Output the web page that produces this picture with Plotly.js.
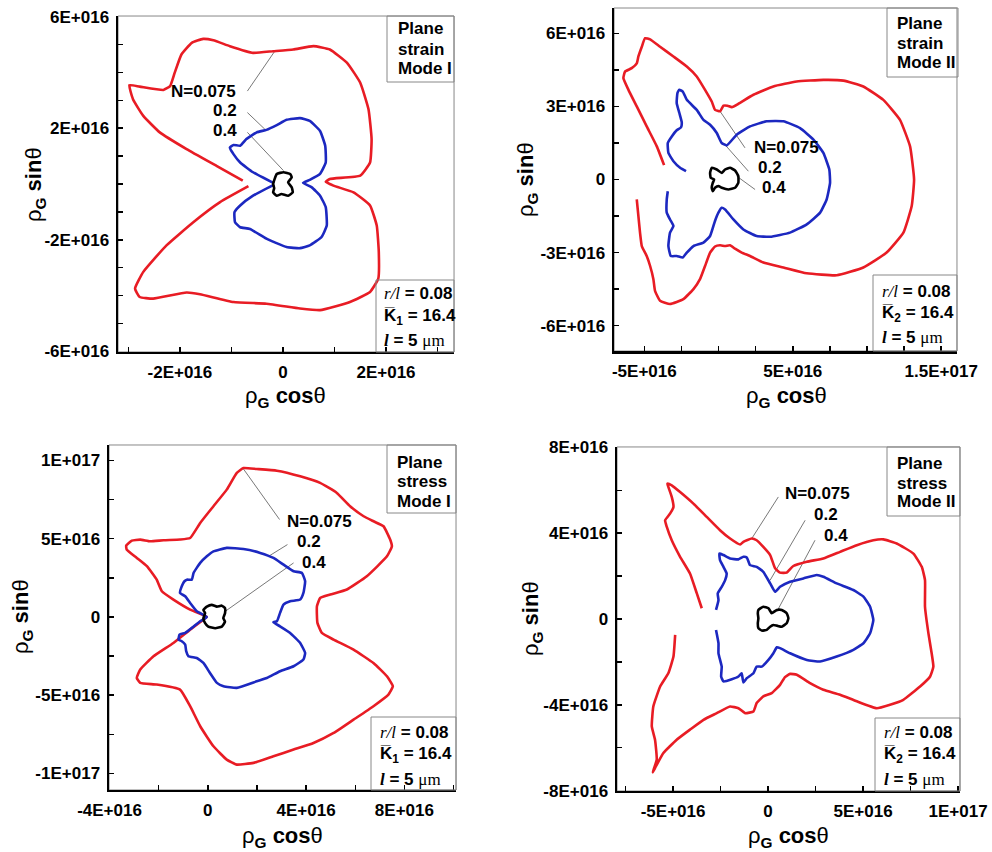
<!DOCTYPE html>
<html><head><meta charset="utf-8">
<script src="https://cdn.plot.ly/plotly-3.0.1.min.js"></script>
<style>html,body{margin:0;padding:0;background:#fff}#chart{width:992px;height:852px}</style>
</head><body><div id="chart"></div>
<script>
const SC = 1e16; // values below are in units of 1E+016

// ---------- Panel 1: plane strain, mode I ----------
const p1RedX = [-0.78,-1.29,-1.87,-2.39,-2.71,-2.91,-2.98,-2.78,-2.32,-2.19,-2.10,-1.97,-1.77,-1.55,-1.35,-1.03,-0.58,-0.19,0.20,0.59,0.91,1.24,1.50,1.66,1.72,1.69,1.50,0.91,0.83,0.98,1.37,1.69,1.82,1.86,1.85,1.69,1.30,0.72,0.33,-0.32,-0.96,-1.61,-1.87,-2.52,-2.78,-2.87,-2.71,-2.26,-1.74,-1.22,-0.67];
const p1RedY = [0.12,0.65,1.25,1.85,2.44,3.04,3.54,3.49,3.37,3.51,3.99,4.64,5.06,5.20,5.15,4.94,4.70,4.76,4.82,4.94,4.82,4.35,3.63,2.68,1.61,0.77,0.30,0.18,0.08,-0.06,-0.30,-0.77,-1.49,-2.44,-3.39,-3.87,-4.23,-4.52,-4.46,-4.29,-4.23,-3.95,-3.89,-4.11,-4.05,-3.75,-3.15,-2.20,-1.37,-0.65,-0.08];
const p1BlueX = [-0.17,-0.58,-0.83,-0.96,-1.03,-0.96,-0.83,-0.71,-0.51,-0.32,-0.12,0.07,0.33,0.52,0.72,0.82,0.83,0.72,0.52,0.39,0.56,0.72,0.83,0.85,0.75,0.52,0.33,0.07,-0.32,-0.64,-0.83,-0.93,-0.94,-0.83,-0.58,-0.17];
const p1BlueY = [0.02,0.42,0.77,1.07,1.31,1.40,1.37,1.61,1.85,1.94,2.11,2.30,2.36,2.26,1.90,1.37,0.77,0.36,0.15,0.04,-0.12,-0.42,-0.83,-1.49,-1.90,-2.20,-2.30,-2.26,-1.96,-1.61,-1.55,-1.37,-1.01,-0.77,-0.42,-0.02];
const p1BlackX = [-0.19,-0.12,0.01,0.14,0.17,0.10,0.17,0.19,0.10,-0.03,-0.12,-0.19,-0.17,-0.19];
const p1BlackY = [0,0.36,0.42,0.36,0.24,0.06,-0.12,-0.30,-0.42,-0.36,-0.42,-0.30,-0.15,0];
const p1LeadX = [-0.69,-0.17,null,-0.69,-0.35,null,-0.69,0.01];
const p1LeadY = [3.33,4.73,null,2.56,1.96,null,1.85,0.48];
const p1LabX = [-0.87,-0.85,-0.85];
const p1LabY = [3.33,2.62,1.93];
const p1XTicks = [-2,0,2];
const p1XText = ['-2E+016','0','2E+016'];
const p1XMinor = [-3,-1,1,3];
const p1YTicks = [-6,-2,2,6];
const p1YText = ['-6E+016','-2E+016','2E+016','6E+016'];
const p1YMinor = [-5,-4,-3,-1,0,1,3,4,5];

// ---------- Panel 2: plane strain, mode II ----------
const p2RedX = [-3.67,-4.16,-4.84,-5.51,-6.07,-6.41,-6.30,-5.85,-5.51,-5.40,-5.17,-4.95,-4.61,-3.94,-3.04,-2.14,-1.47,-0.91,-0.46,-0.24,0.10,0.33,0.60,0.89,1.34,2.35,3.69,5.26,7.06,8.41,9.75,11.10,12.22,12.90,13.17,13.01,12.45,11.32,9.75,7.96,5.94,4.37,3.02,2.12,1.56,1.11,0.77,0.44,0.10,-0.24,-0.57,-0.91,-1.25,-1.69,-2.37,-3.27,-3.94,-4.28,-4.39,-4.61,-4.84,-5.17,-5.29,-5.40,-5.51];
const p2RedY = [0.59,1.36,2.18,3.00,3.68,4.16,4.43,4.57,4.77,5.05,5.45,5.80,5.75,5.45,5.05,4.64,4.23,3.68,3.20,2.86,2.80,3.03,3.03,2.97,3.11,3.48,3.82,4.02,4.09,4.06,3.82,3.27,2.45,1.36,0,-1.09,-2.18,-3.00,-3.61,-3.93,-3.85,-3.61,-3.41,-3.14,-3.00,-2.84,-2.70,-2.73,-2.70,-2.75,-3.00,-3.55,-4.09,-4.50,-4.91,-5.11,-4.98,-4.57,-4.09,-3.55,-3.14,-2.73,-2.18,-1.50,-0.82];
const p2BlueX = [-2.19,-2.59,-3.04,-3.38,-3.42,-3.15,-2.82,-2.53,-2.48,-2.64,-2.82,-2.77,-2.64,-2.41,-2.14,-1.47,-1.02,-0.57,-0.12,0.21,0.55,1.22,2.12,3.24,4.37,5.49,6.39,7.06,7.46,7.51,7.28,6.84,5.94,4.81,3.47,2.57,1.67,1.00,0.44,0.21,-0.01,-0.24,-0.57,-1.02,-1.69,-2.14,-2.41,-2.82,-3.22,-3.38,-3.27,-3.04,-3.27,-3.49,-3.49,-3.42];
const p2BlueY = [0.34,0.48,0.75,1.09,1.50,1.77,2.02,2.14,2.35,2.73,3.14,3.55,3.68,3.61,3.27,2.86,2.45,2.25,1.91,1.50,1.40,1.84,2.18,2.39,2.39,2.11,1.64,1.09,0.41,-0.14,-0.82,-1.36,-1.84,-2.18,-2.35,-2.32,-2.05,-1.64,-1.23,-1.16,-1.36,-1.70,-2.32,-2.59,-2.73,-3.00,-3.20,-3.14,-3.14,-2.73,-2.18,-1.91,-1.64,-1.36,-0.82,-0.48];
const p2BlackX = [-0.46,-0.12,0.22,0.44,0.77,1.11,1.33,1.33,1.11,0.66,0.22,-0.01,-0.24,-0.39,-0.46,-0.39,-0.30,-0.53,-0.57,-0.46];
const p2BlackY = [0.48,0.41,0.27,0.41,0.48,0.37,0.14,-0.14,-0.34,-0.41,-0.34,-0.27,-0.34,-0.48,-0.34,-0.14,0,0.07,0.27,0.48];
const p2LeadX = [1.78,0.10,null,2.01,0.33,null,2.46,1.22];
const p2LeadY = [1.30,2.80,null,0.34,1.50,null,-0.41,0.14];
const p2LabX = [2.23,2.53,2.79];
const p2LabY = [1.30,0.48,-0.34];
const p2XTicks = [-5,5,15];
const p2XText = ['-5E+016','5E+016','1.5E+017'];
const p2XMinor = [-2.5,0,2.5,7.5,10,12.5];
const p2YTicks = [-6,-3,0,3,6];
const p2YText = ['-6E+016','-3E+016','0','3E+016','6E+016'];
const p2YMinor = [-4.5,-1.5,1.5,4.5];

// ---------- Panel 3: plane stress, mode I ----------
const p3RedX = [-0.04,-0.72,-1.40,-1.87,-2.08,-2.48,-2.89,-3.30,-3.32,-3.09,-2.75,-2.35,-1.80,-1.13,-0.72,-0.31,0.23,0.77,1.18,1.45,1.99,2.81,3.76,4.57,5.25,5.79,6.34,6.74,7.15,7.42,7.49,7.29,6.47,5.66,4.98,4.57,4.44,4.46,4.64,5.12,5.93,6.74,7.29,7.53,7.35,6.74,5.93,5.12,4.30,3.49,2.67,1.86,1.18,0.77,0.23,-0.31,-0.72,-1.13,-2.08,-2.75,-2.89,-2.75,-2.21,-1.40,-0.72,-0.18,-0.04];
const p3RedY = [0,0.47,1.11,1.64,2.38,3.24,3.77,4.30,4.56,4.87,4.94,4.83,4.90,4.94,5.04,6.00,7.07,8.13,9.20,9.51,9.45,9.34,8.98,8.56,7.92,7.07,6.43,6.11,5.79,4.94,4.51,3.87,2.60,1.75,1.43,1.21,0.68,-0.38,-1.02,-1.45,-2.09,-2.94,-3.79,-4.43,-4.96,-5.70,-6.56,-7.41,-8.05,-8.47,-8.90,-9.32,-9.43,-9.11,-8.26,-6.98,-5.70,-4.64,-4.32,-4.21,-3.90,-3.36,-2.51,-1.66,-0.81,-0.17,0];
const p3BlueX = [-0.04,-0.45,-0.72,-0.92,-1.13,-1.06,-0.95,-0.85,-0.65,-0.58,-0.31,-0.04,0.23,0.77,1.45,2.13,2.67,3.08,3.49,3.83,3.96,3.89,3.76,3.35,3.08,2.94,2.81,2.67,2.94,3.35,3.76,3.96,3.89,3.49,2.94,2.40,1.99,1.18,0.64,0.37,0.09,-0.18,-0.45,-0.79,-0.88,-0.92,-1.06,-1.19,-1.15,-0.92,-0.65,-0.31,-0.04];
const p3BlueY = [0,0.36,0.89,1.32,1.53,1.96,2.28,2.38,2.38,2.81,3.45,3.87,4.19,4.41,4.34,4.09,3.77,3.34,2.92,2.81,2.28,1.53,1.11,1.00,0.79,0.26,-0.28,-0.34,-0.60,-1.02,-1.66,-2.30,-2.72,-3.15,-3.47,-3.90,-4.11,-4.53,-4.43,-4.21,-3.58,-2.94,-2.62,-2.51,-2.19,-1.77,-1.55,-1.45,-1.13,-1.02,-0.70,-0.28,0];
const p3BlackX = [-0.11,-0.18,-0.04,0.16,0.37,0.57,0.70,0.70,0.63,0.70,0.57,0.30,0.02,-0.11,-0.18,-0.11];
const p3BlackY = [0.24,0.45,0.66,0.77,0.66,0.72,0.56,0.24,-0.08,-0.30,-0.62,-0.72,-0.62,-0.40,-0.08,0.24];
const p3LeadX = [2.92,1.45,null,3.24,2.47,null,3.49,0.71];
const p3LeadY = [6.22,9.45,null,4.62,3.87,null,3.45,0.36];
const p3LabX = [3.15,3.55,3.76];
const p3LabY = [6.11,4.83,3.49];
const p3XTicks = [-4,0,4,8];
const p3XText = ['-4E+016','0','4E+016','8E+016'];
const p3XMinor = [-2,2,6,10];
const p3YTicks = [-10,-5,0,5,10];
const p3YText = ['-1E+017','-5E+016','0','5E+016','1E+017'];
const p3YMinor = [-7.5,-2.5,2.5,7.5];

// ---------- Panel 4: plane stress, mode II ----------
const p4RedX = [-3.49,-3.75,-4.11,-4.63,-5.07,-5.33,-5.42,-5.16,-4.98,-5.07,-5.25,-5.30,-5.07,-4.63,-3.93,-3.23,-2.53,-2.00,-1.47,-1.30,-0.86,-0.60,-0.25,0.11,0.37,0.63,0.98,1.33,2.04,2.91,3.79,4.67,5.54,6.07,6.77,7.65,8.09,8.26,8.26,8.44,8.61,8.70,8.53,8.00,7.12,6.42,5.72,4.67,3.79,2.91,2.21,1.51,1.16,0.89,0.63,0.19,-0.25,-0.60,-0.77,-1.21,-1.56,-2.00,-2.70,-3.40,-4.11,-4.81,-5.51,-5.95,-6.07,-5.86,-5.95,-6.12,-6.04,-5.68,-5.25,-4.98,-4.89];
const p4RedY = [0.50,1.19,2.12,2.90,3.67,4.29,4.60,4.91,5.22,5.69,6.16,6.31,6.23,5.92,5.38,4.76,4.14,3.75,3.47,3.60,3.75,3.67,3.36,2.98,2.36,2.16,2.16,2.47,2.67,2.82,3.13,3.44,3.67,3.71,3.52,3.05,2.43,1.81,0.57,-0.67,-1.60,-2.22,-2.68,-3.15,-3.77,-4.00,-4.16,-3.84,-3.53,-3.30,-2.99,-2.60,-2.56,-2.71,-3.07,-3.46,-3.61,-3.92,-4.31,-4.39,-4.16,-4.08,-4.39,-4.70,-5.16,-5.63,-6.25,-6.95,-7.15,-6.56,-5.63,-5.01,-4.08,-3.15,-2.53,-1.75,-0.74];
const p4BlueX = [-2.74,-2.61,-2.65,-2.44,-2.26,-2.18,-2.35,-2.53,-2.56,-2.35,-2.00,-1.56,-1.30,-1.12,-0.95,-0.60,-0.25,0.11,0.37,0.63,1.16,1.86,2.56,2.91,3.61,4.49,5.02,5.37,5.54,5.37,5.02,4.49,3.61,2.74,2.04,1.16,0.63,0.46,0.28,0.02,-0.33,-0.60,-0.77,-1.12,-1.30,-1.39,-1.56,-1.91,-2.35,-2.47,-2.44,-2.61,-2.61,-2.74];
const p4BlueY = [0.42,0.88,1.19,1.50,1.81,2.12,2.43,2.74,3.05,2.98,2.82,2.78,2.90,2.87,2.51,2.43,2.20,1.66,1.27,1.50,1.74,1.89,2.05,1.97,1.66,1.35,1.04,0.57,-0.05,-0.67,-1.13,-1.44,-1.75,-1.98,-1.91,-1.60,-1.36,-1.32,-1.60,-1.91,-2.22,-2.22,-2.53,-2.76,-2.96,-2.53,-2.68,-2.81,-2.91,-2.68,-2.22,-1.60,-1.13,-0.51];
const p4BlackX = [-0.51,-0.25,0.02,0.19,0.46,0.72,0.98,1.07,0.98,0.72,0.46,0.28,0.11,-0.07,-0.33,-0.51,-0.54,-0.51,-0.54,-0.51];
const p4BlackY = [0.42,0.57,0.50,0.27,0.42,0.42,0.27,0.03,-0.20,-0.36,-0.31,-0.28,-0.36,-0.51,-0.54,-0.43,-0.20,0.03,0.27,0.42];
const p4LeadX = [0.54,-0.86,null,1.95,0.11,null,2.47,0.46];
const p4LeadY = [5.69,3.75,null,4.60,1.81,null,3.67,0.34];
const p4LabX = [0.81,2.30,2.82];
const p4LabY = [5.84,4.88,3.91];
const p4XTicks = [-5,0,5,10];
const p4XText = ['-5E+016','0','5E+016','1E+017'];
const p4XMinor = [-7.5,-2.5,2.5,7.5];
const p4YTicks = [-8,-4,0,4,8];
const p4YText = ['-8E+016','-4E+016','0','4E+016','8E+016'];
const p4YMinor = [-6,-2,2,6];

const labels = ['N=0.075','0.2','0.4'];
const titles = [['Plane','strain','Mode I'],['Plane','strain','Mode II'],['Plane','stress','Mode I'],['Plane','stress','Mode II']];
const kSub = ['1','2','1','2'];

const s = a => a.map(v => v === null ? null : v * SC);
const RED = 'rgb(232,28,36)', BLUE = 'rgb(28,40,192)', BLACK = '#000';
const SANS = 'Liberation Sans, Arial, sans-serif';

const panels = [
  {rx:p1RedX,ry:p1RedY,bx:p1BlueX,by:p1BlueY,kx:p1BlackX,ky:p1BlackY,lx:p1LeadX,ly:p1LeadY,tx:p1LabX,ty:p1LabY,anchor:'right'},
  {rx:p2RedX,ry:p2RedY,bx:p2BlueX,by:p2BlueY,kx:p2BlackX,ky:p2BlackY,lx:p2LeadX,ly:p2LeadY,tx:p2LabX,ty:p2LabY,anchor:'left'},
  {rx:p3RedX,ry:p3RedY,bx:p3BlueX,by:p3BlueY,kx:p3BlackX,ky:p3BlackY,lx:p3LeadX,ly:p3LeadY,tx:p3LabX,ty:p3LabY,anchor:'left'},
  {rx:p4RedX,ry:p4RedY,bx:p4BlueX,by:p4BlueY,kx:p4BlackX,ky:p4BlackY,lx:p4LeadX,ly:p4LeadY,tx:p4LabX,ty:p4LabY,anchor:'left'}
];

const traces = [];
const annotations = [];
panels.forEach((p, i) => {
  const xa = i === 0 ? 'x' : 'x' + (i + 1);
  const ya = i === 0 ? 'y' : 'y' + (i + 1);
  const base = {xaxis: xa, yaxis: ya, mode: 'lines', hoverinfo: 'skip', showlegend: false};
  const curve = c => ({color: c, width: 2.6, shape: 'spline', smoothing: 0.4});
  traces.push(Object.assign({}, base, {x: s(p.lx), y: s(p.ly), line: {color: '#555', width: 0.8}}));
  traces.push(Object.assign({}, base, {x: s(p.rx), y: s(p.ry), line: curve(RED)}));
  traces.push(Object.assign({}, base, {x: s(p.bx), y: s(p.by), line: curve(BLUE)}));
  traces.push(Object.assign({}, base, {x: s(p.kx), y: s(p.ky), line: curve(BLACK)}));
  labels.forEach((t, j) => {
    annotations.push({xref: xa, yref: ya, x: p.tx[j] * SC, y: p.ty[j] * SC, text: t, showarrow: false,
      xanchor: p.anchor, yanchor: 'middle', font: {family: SANS, size: 17, color: '#000', weight: 'bold'}});
  });
});

function axis(domain, range, ticks, text, minor, anchor) {
  return {domain: domain, range: range.map(v => v * SC), anchor: anchor,
    tickmode: 'array', tickvals: s(ticks), ticktext: text,
    ticks: 'inside', ticklen: 5, tickwidth: 1.5, tickcolor: '#000',
    minor: {tickmode: 'array', tickvals: s(minor), ticks: 'inside', ticklen: 5, tickwidth: 1.5, tickcolor: '#000', showgrid: false},
    showline: true, linewidth: 2.5, linecolor: '#000', showgrid: false, zeroline: false,
    ticklabelstandoff: 3, automargin: false, fixedrange: true,
    tickfont: {family: SANS, size: 17, color: '#000', weight: 'bold'}};
}

// pixel-to-paper helpers for text/box placement
const W = 992, H = 852;
const px = v => v / W, py = v => 1 - v / H;

const boxes = [
  {t:[387,16,454,82], b:[376,280,454,352], tl:[396,[29,49,68]], bl:[382,[293,317,340]]},
  {t:[887,8,958,77], b:[873,275,957,351], tl:[895,[23,43,62]], bl:[880,[291,314,337]]},
  {t:[387,445,456,513], b:[371,717,456,790], tl:[395,[462,482,502]], bl:[378,[732,755,779]]},
  {t:[887,447,960,516], b:[875,718,960,791], tl:[895,[463,483,502]], bl:[882,[732,755,779]]}
];
const shapes = [];
const xrefs = ['x','x2','x3','x4'], yrefs = ['y','y2','y3','y4'];
boxes.forEach((bx, i) => {
  shapes.push({type:'rect', xref: xrefs[i] + ' domain', yref: yrefs[i] + ' domain', x0:0, x1:1, y0:0, y1:1, line:{color:'#888', width:1}, layer:'below'});
  shapes.push({type:'rect', xref:'paper', yref:'paper', x0:px(bx.t[0]), x1:px(bx.t[2]), y0:py(bx.t[3]), y1:py(bx.t[1]), line:{color:'#888', width:1}});
  shapes.push({type:'rect', xref:'paper', yref:'paper', x0:px(bx.b[0]), x1:px(bx.b[2]), y0:py(bx.b[3]), y1:py(bx.b[1]), line:{color:'#888', width:1}});
  titles[i].forEach((t, j) => {
    annotations.push({xref:'paper', yref:'paper', x:px(bx.tl[0]), y:py(bx.tl[1][j]), xanchor:'left', yanchor:'middle',
      text: t, showarrow:false, font:{family:SANS, size:17, color:'#000', weight:'bold'}});
  });
  const lines = [
    '<span style="font-family:Liberation Serif;font-style:italic;font-weight:normal">r/l</span> = 0.08',
    'K\u0305<sub>' + kSub[i] + '</sub> = 16.4',
    '<span style="font-family:Liberation Serif;font-style:italic">l</span> = 5 <span style="font-family:Liberation Serif;font-weight:normal">\u03bcm</span>'
  ];
  lines.forEach((t, j) => {
    annotations.push({xref:'paper', yref:'paper', x:px(bx.bl[0]), y:py(bx.bl[1][j]), xanchor:'left', yanchor:'middle',
      text: t, showarrow:false, font:{family:SANS, size:17, color:'#000', weight:'bold'}});
  });
});

// axis titles
const xTitlePos = [[285,397],[786,397],[282,837],[788,837]];
const yTitlePos = [[35,185],[527,180],[22,617],[532,619]];
xTitlePos.forEach(p => annotations.push({xref:'paper', yref:'paper', x:px(p[0]), y:py(p[1]), xanchor:'center', yanchor:'middle', showarrow:false,
  text:'\u03c1<sub><b>G</b></sub> <b>cos</b>\u03b8', font:{family:SANS, size:22, color:'#000'}}));
yTitlePos.forEach(p => annotations.push({xref:'paper', yref:'paper', x:px(p[0]), y:py(p[1]), xanchor:'center', yanchor:'middle', showarrow:false, textangle:-90,
  text:'\u03c1<sub><b>G</b></sub> <b>sin</b>\u03b8', font:{family:SANS, size:22, color:'#000'}}));

const layout = {
  width: W, height: H, margin: {l:0, r:0, t:0, b:0}, paper_bgcolor:'#fff', plot_bgcolor:'#fff', showlegend:false,
  xaxis:  axis([0.119, 0.4577], [-3.2, 3.32], p1XTicks, p1XText, p1XMinor, 'y'),
  yaxis:  axis([0.5869, 0.9812], [-6.02, 6.02], p1YTicks, p1YText, p1YMinor, 'x'),
  xaxis2: axis([0.619, 0.9647], [-7.04, 16.06], p2XTicks, p2XText, p2XMinor, 'y2'),
  yaxis2: axis([0.588, 0.9906], [-7.04, 7.04], p2YTicks, p2YText, p2YMinor, 'x2'),
  xaxis3: axis([0.1099, 0.4597], [-4.02, 10.1], p3XTicks, p3XText, p3XMinor, 'y3'),
  yaxis3: axis([0.0728, 0.4777], [-11.05, 10.98], p3YTicks, p3YText, p3YMinor, 'x3'),
  xaxis4: axis([0.622, 0.9677], [-7.95, 10.1], p4XTicks, p4XText, p4XMinor, 'y4'),
  yaxis4: axis([0.0716, 0.4754], [-8.02, 8.02], p4YTicks, p4YText, p4YMinor, 'x4'),
  shapes: shapes, annotations: annotations
};
Plotly.newPlot('chart', traces, layout, {displayModeBar:false, staticPlot:true});
</script></body></html>
